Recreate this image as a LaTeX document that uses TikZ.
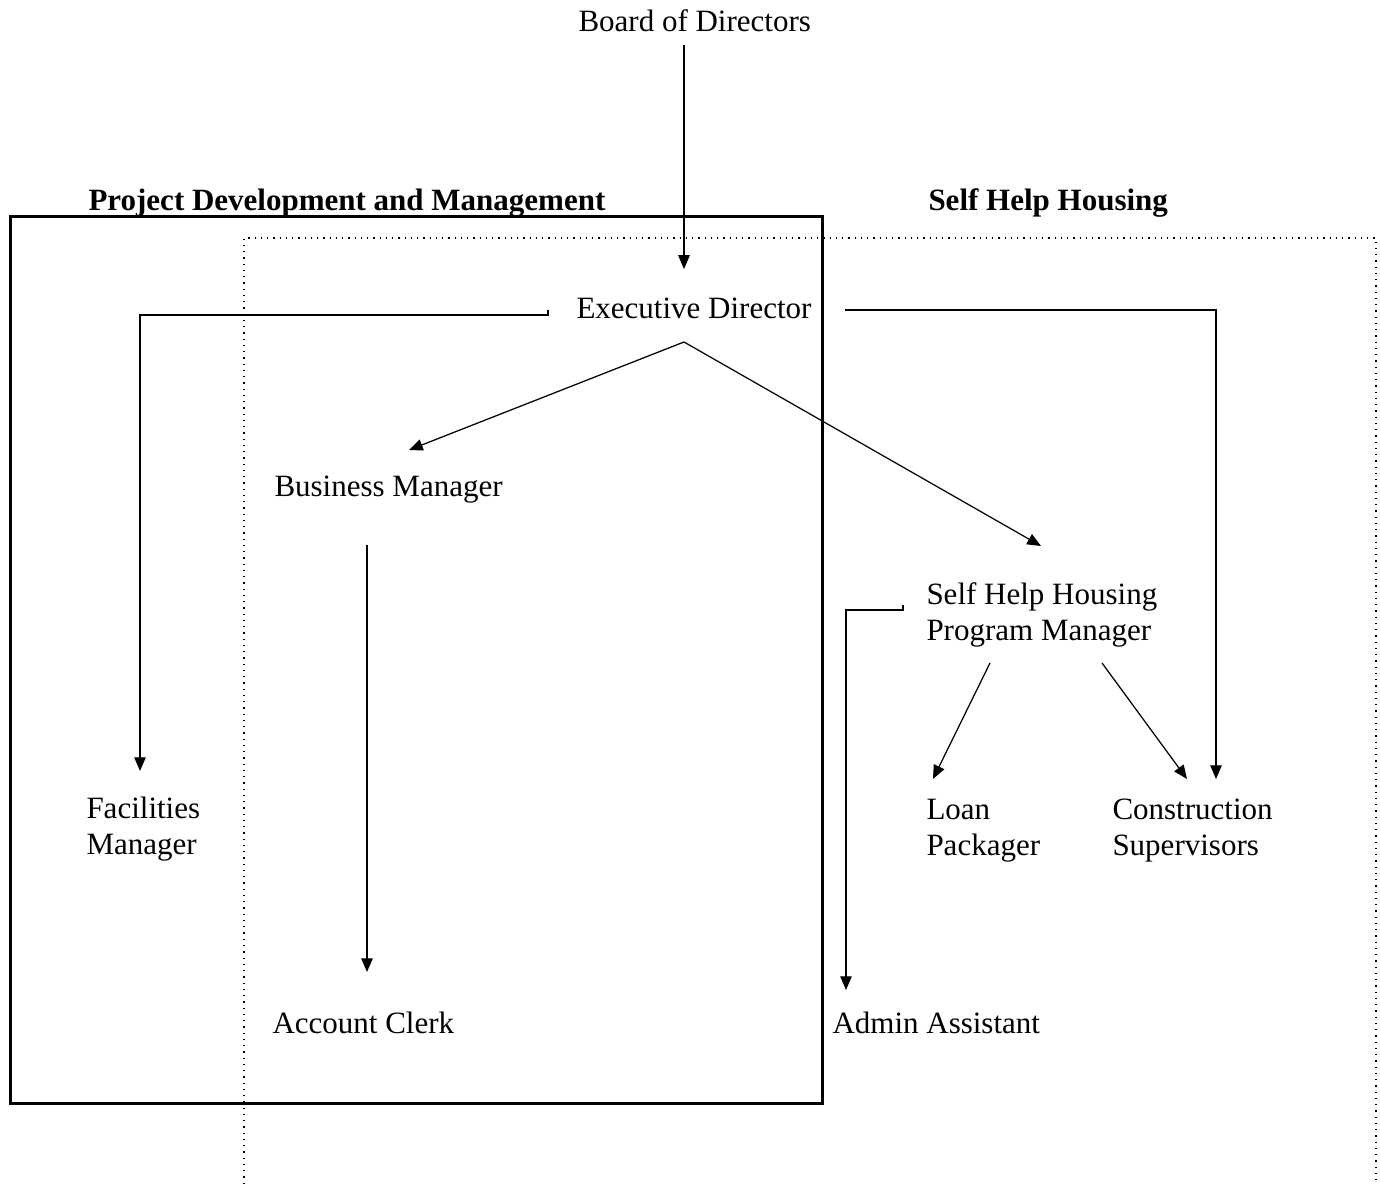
\documentclass[tikz,border=0pt]{standalone}
\usepackage{fontspec}
\setmainfont{Liberation Serif}
\usetikzlibrary{arrows.meta}
\tikzset{
	lbl/.style={anchor=base west,inner sep=0pt,align=left,font=\fontsize{12.4}{14.4}\selectfont},
	head/.style={lbl,font=\fontsize{12.4}{14.4}\selectfont\bfseries},
	arr/.style={line width=0.5pt,-{Triangle[length=5.5pt,width=4.6pt]}}
}
\begin{document}
\begin{tikzpicture}[x=0.4pt,y=-0.4pt]
	\useasboundingbox (0,0) rectangle (1380,1184);
	\draw[line width=1.2pt] (10,217) rectangle (822,1103);
	\draw[line width=0.5pt,dotted] (244,1190) -- (244,238) -- (1376,238) -- (1376,1190);
	\node[head] (pdm) at (88,211) {Project Development and Management};
	\node[head] (shh) at (928,211) {Self Help Housing};
	\node[lbl] (bod) at (578,32) {Board of Directors};
	\node[lbl] (ed) at (576,319) {Executive Director};
	\node[lbl] (bm) at (274,497) {Business Manager};
	\node[lbl] (ac) at (272,1033) {Account Clerk};
	\node[lbl] (pm) at (926,641) {Self Help Housing\\Program Manager};
	\node[lbl] (fm) at (86,854) {Facilities\\Manager};
	\node[lbl] (lp) at (926,855) {Loan\\Packager};
	\node[lbl] (cs) at (1112,855) {Construction\\Supervisors};
	\node[lbl] (aa) at (832,1033) {Admin Assistant};
	\coordinate (bodout) at (684,45);
	\coordinate (edin) at (684,269);
	\coordinate (edout) at (684,342);
	\coordinate (edl) at (548,310);
	\coordinate (edr) at (845,310);
	\coordinate (bmin) at (409,450);
	\coordinate (bmout) at (367,545);
	\coordinate (acin) at (367,972);
	\coordinate (pmin) at (1041,546);
	\coordinate (pml) at (903,605);
	\coordinate (pmoutl) at (990,663);
	\coordinate (pmoutr) at (1102,663);
	\coordinate (fmin) at (140,771);
	\coordinate (lpin) at (933,779);
	\coordinate (csin) at (1187,779);
	\coordinate (csin2) at (1216,779);
	\coordinate (aain) at (846,990);
	\draw[arr] (bodout) -- (edin);
	\draw[arr] (edout) -- (bmin);
	\draw[arr] (edout) -- (pmin);
	\draw[arr] (edl) -- ++(0,5) -| (fmin);
	\draw[arr] (edr) -| (csin2);
	\draw[arr] (bmout) -- (acin);
	\draw[arr] (pml) -- ++(0,5) -| (aain);
	\draw[arr] (pmoutl) -- (lpin);
	\draw[arr] (pmoutr) -- (csin);
\end{tikzpicture}
\end{document}
